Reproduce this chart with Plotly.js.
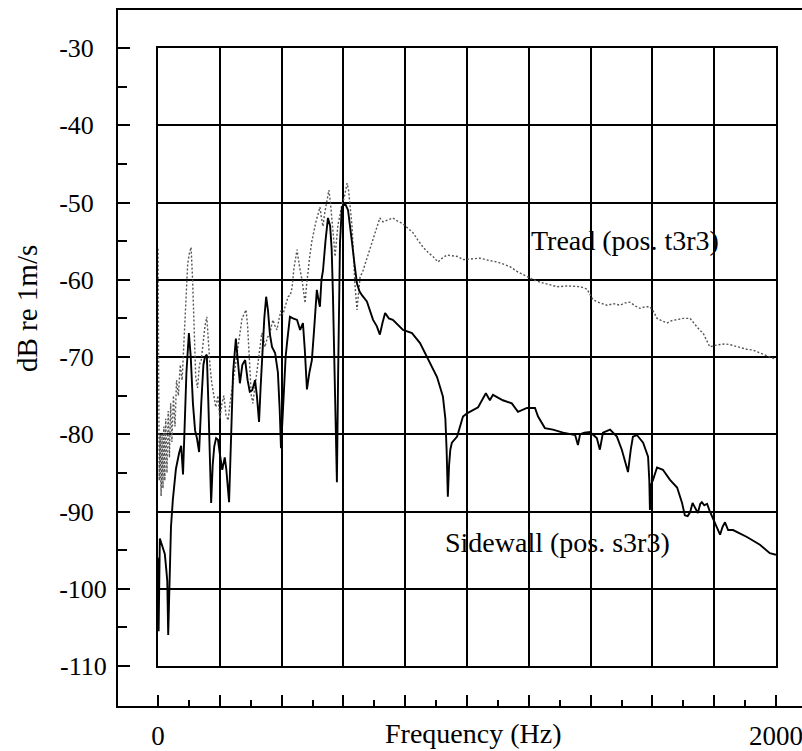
<!DOCTYPE html>
<html>
<head>
<meta charset="utf-8">
<script src="https://cdn.plot.ly/plotly-3.0.1.min.js"></script>
<style>html,body{margin:0;padding:0;background:#fff;}#chart{width:802px;height:751px;}</style>
</head>
<body>
<div id="chart"></div>
<script>
// ---------------- data ----------------
const SIDEWALL_FREQ = [0,2,6,14,22,27,30,33,37,42,48,58,68,75,81,86,92,100,106,113,120,126,133,140,147,152,158,163,168,172,177,182,188,194,200,208,216,221,230,236,243,252,258,265,273,282,290,297,305,314,320,327,332,337,344,350,356,362,369,379,388,394,398,403,408,413,418,427,437,450,460,469,475,482,490,498,506,514,519,524,529,534,542,550,557,562,566,571,575,579,583,586,589,595,605,615,622,628,636,644,652,660,676,696,708,718,727,735,747,760,793,822,848,870,903,922,930,934,938,942,946,951,968,987,1000,1036,1061,1074,1084,1116,1145,1165,1194,1220,1230,1252,1278,1311,1350,1359,1366,1380,1398,1420,1430,1440,1463,1485,1501,1515,1521,1530,1537,1550,1570,1586,1590,1592,1596,1602,1615,1634,1657,1680,1696,1705,1714,1722,1730,1738,1747,1755,1760,1768,1777,1786,1802,1819,1827,1835,1845,1861,1906,1948,1980,2000];
const SIDEWALL_DB = [-96,-105.5,-93.5,-94.5,-95.5,-97.6,-99,-106,-100,-92,-88.5,-84.5,-82.5,-81.5,-85.2,-78,-72,-66.9,-70,-76,-79.5,-80.5,-82.3,-76,-71,-70,-69.7,-76,-82,-88.9,-84,-81.6,-80.5,-80.7,-82.5,-84.6,-83,-84.5,-88.8,-80,-72,-67.6,-70,-73.4,-71,-70.4,-73,-74.5,-74.3,-73,-75,-78.4,-74,-70,-65,-62.2,-64,-67,-68.7,-69.5,-72,-77,-81.8,-78,-74,-70,-68,-64.8,-65,-65.2,-66.5,-65.6,-69,-74.2,-72,-70.4,-66,-61.3,-62.5,-63.5,-60,-58.8,-55,-52,-53,-56,-61.7,-70,-78,-86.2,-72,-62,-55.2,-50.6,-50.1,-51,-53,-55.2,-58,-60.5,-61.5,-62,-62.8,-65.2,-66,-67.1,-65.5,-64.3,-65,-65.2,-66.5,-66.9,-68.2,-70,-72.6,-75.1,-78,-82,-88.1,-84,-82,-81.1,-80.3,-77.7,-77.3,-76.5,-74.7,-75.6,-74.9,-75.6,-76,-77.1,-76.6,-76.6,-77.7,-79.2,-79.4,-79.8,-80.1,-81.4,-80,-79.8,-79.7,-80.5,-82,-79.8,-79.4,-80.3,-82,-84,-84.9,-82,-80.3,-80.1,-81.1,-82.9,-86,-89.8,-86.5,-85.9,-84.3,-84.6,-85.9,-86.9,-88.9,-90.5,-90.6,-90.1,-88.9,-89.5,-90.2,-89,-88.8,-89.2,-89,-90,-91.5,-93,-92,-91.4,-92.4,-92.4,-93.3,-94.3,-95.4,-95.6];

const TREAD_FREQ = [0,2,4,7,10,13,16,19,22,25,29,33,37,41,45,50,55,60,66,72,78,84,90,96,102,107,112,117,122,128,134,140,146,152,158,163,168,174,180,187,194,200,207,213,220,227,233,239,246,252,259,266,272,278,285,290,296,302,307,313,319,324,330,336,341,346,354,362,367,372,379,385,392,398,404,411,416,421,428,434,440,445,450,453,456,461,466,471,476,480,485,491,498,505,511,518,524,529,534,539,544,549,553,558,563,568,573,578,582,587,592,597,602,607,612,617,621,628,633,637,644,649,654,662,670,678,686,694,702,710,718,728,741,750,760,775,790,808,825,840,858,875,890,906,920,935,952,971,987,1010,1042,1070,1097,1120,1139,1165,1194,1215,1236,1262,1291,1330,1366,1388,1400,1408,1430,1453,1475,1495,1512,1527,1545,1560,1575,1592,1605,1615,1630,1647,1662,1680,1700,1722,1735,1744,1755,1764,1775,1786,1800,1819,1835,1851,1867,1883,1905,1925,1950,1980,2000];
const TREAD_DB = [-56,-70,-86,-80,-88,-80,-87,-79,-86,-78,-85,-77,-83,-76,-81,-75,-79,-73,-75,-71,-73,-68,-63,-58,-56.5,-55.8,-60,-67,-72.6,-74,-71,-70.4,-68,-66,-64.8,-68,-71,-73.4,-75,-76.5,-75,-78,-76,-75,-77.5,-78.2,-76,-74.3,-72.5,-71,-69,-67,-65,-64.5,-63.9,-66,-71,-75,-76,-74,-72,-71,-68.7,-66.9,-67.5,-68.7,-67.5,-67,-66,-65.2,-66,-66.5,-65,-64,-64.5,-63.5,-63,-62.2,-62,-61,-58.5,-57,-56.1,-57,-58,-59,-60,-61.5,-63,-61,-58.7,-57,-55,-53.5,-52.5,-51.5,-50.6,-52,-53.1,-51.5,-50.5,-49.5,-48.4,-50,-52,-54.5,-57,-55,-53,-52,-51,-50,-49.5,-48.5,-47.5,-48.5,-50,-53.1,-57,-60.4,-63.9,-61.5,-59.6,-59,-58,-57,-56.1,-55,-54,-53,-52,-52.5,-52.3,-52.1,-52,-52.4,-52.7,-53.3,-53.9,-54.8,-55.8,-56.5,-57,-57.7,-57.2,-56.8,-56.9,-57,-57.4,-57.3,-57.2,-57.5,-57.7,-58,-58.3,-59,-59.6,-60,-60.3,-60.6,-60.9,-60.8,-60.9,-61.2,-62,-62.6,-63,-63.3,-63.1,-63.3,-63,-62.9,-63.4,-63.7,-63.5,-63.5,-64.2,-65,-65.3,-65.6,-65.3,-65.2,-65,-65,-65.7,-66.1,-66.6,-66.9,-67.8,-68.7,-68.5,-68.4,-68.3,-68.4,-68.6,-68.8,-69,-69.1,-69.5,-70,-70.3];

// tick values / labels
const FREQ_MAJOR_TICKS = [0,200,400,600,800,1000,1200,1400,1600,1800,2000];
const FREQ_TICK_LABELS = ['0','','','','','','','','','','2000'];
const FREQ_MINOR_TICKS = [100,300,500,700,900,1100,1300,1500,1700,1900];
const DB_MAJOR_TICKS = [-110,-100,-90,-80,-70,-60,-50,-40,-30];
const DB_TICK_LABELS = ['-110','-100','-90','-80','-70','-60','-50','-40','-30'];
const DB_MINOR_TICKS = [-105,-95,-85,-75,-65,-55,-45,-35];

// ---------------- layout geometry ----------------
const W = 802, H = 751;
const frame = {l:118, t:10, r:802, b:706};      // outer frame (paper)
const inner = {l:158, t:48, r:776, b:666};      // grid box
const pw = frame.r - frame.l, ph = frame.b - frame.t;
const xDom = [(inner.l-frame.l)/pw, (inner.r-frame.l)/pw];
const yDom = [(frame.b-inner.b)/ph, (frame.b-inner.t)/ph];
const xPerPx = 2000/(inner.r-inner.l);
const yPerPx = 80/(inner.b-inner.t);
const x2Range = [(frame.l-inner.l)*xPerPx, (frame.r-inner.l)*xPerPx];
const y2Range = [-110-(frame.b-inner.b)*yPerPx, -30+(inner.t-frame.t)*yPerPx];

const FONT = 'Liberation Serif, Times New Roman, serif';
// pad short labels so they appear left-aligned like the original
const padLabel = s => s + '\u00a0\u00a0'.repeat(4 - s.length);

const traces = [
  {x: TREAD_FREQ, y: TREAD_DB, type:'scatter', mode:'lines', name:'Tread (pos. t3r3)',
   line:{color:'#555', width:1.4, dash:'2px,2px'}, xaxis:'x', yaxis:'y'},
  {x: SIDEWALL_FREQ, y: SIDEWALL_DB, type:'scatter', mode:'lines', name:'Sidewall (pos. s3r3)',
   line:{color:'#000', width:1.9}, xaxis:'x', yaxis:'y'},
  {x: [], y: [], type:'scatter', mode:'lines', xaxis:'x2', yaxis:'y2', showlegend:false, hoverinfo:'skip'}
];

const layout = {
  width: W, height: H,
  margin: {l: frame.l, r: W-frame.r, t: frame.t, b: H-frame.b, pad:0},
  paper_bgcolor:'#fff', plot_bgcolor:'rgba(0,0,0,0)',
  showlegend:false,
  font:{family:FONT, color:'#000', size:26},
  xaxis: {
    domain: xDom, range:[0,2000], anchor:'y',
    tickmode:'linear', tick0:0, dtick:200,
    showgrid:true, gridcolor:'#000', gridwidth:2,
    zeroline:false, showline:true, mirror:true, linecolor:'#000', linewidth:2,
    ticks:'', showticklabels:false, fixedrange:true
  },
  yaxis: {
    domain: yDom, range:[-110,-30], anchor:'x',
    tickmode:'linear', tick0:-110, dtick:10,
    showgrid:true, gridcolor:'#000', gridwidth:2,
    zeroline:false, showline:true, mirror:true, linecolor:'#000', linewidth:2,
    ticks:'', showticklabels:false, fixedrange:true
  },
  xaxis2: {
    domain:[0,1], range:x2Range, anchor:'y2',
    tickmode:'array', tickvals:FREQ_MAJOR_TICKS, ticktext:FREQ_TICK_LABELS,
    ticks:'inside', ticklen:11, tickwidth:2, tickcolor:'#000',
    minor:{tickmode:'array', tickvals:FREQ_MINOR_TICKS, ticks:'inside', ticklen:6, tickwidth:2, tickcolor:'#000', showgrid:false},
    showgrid:false, zeroline:false, showline:true, mirror:true, linecolor:'#000', linewidth:2,
    tickfont:{family:FONT, size:27, color:'#000'}, ticklabelstandoff:5, ticklabeloverflow:'allow', fixedrange:true
  },
  yaxis2: {
    domain:[0,1], range:y2Range, anchor:'x2',
    tickmode:'array', tickvals:DB_MAJOR_TICKS, ticktext:DB_TICK_LABELS.map(padLabel),
    ticks:'inside', ticklen:12, tickwidth:2, tickcolor:'#000',
    minor:{tickmode:'array', tickvals:DB_MINOR_TICKS, ticks:'inside', ticklen:9, tickwidth:2, tickcolor:'#000', showgrid:false},
    showgrid:false, zeroline:false, showline:true, mirror:false, linecolor:'#000', linewidth:2,
    tickfont:{family:FONT, size:26, color:'#000'}, ticklabelstandoff:4, fixedrange:true
  },
  annotations: [
    {text:'Tread (pos. t3r3)', x:(625-inner.l)*xPerPx, y:-30-(240-inner.t)*yPerPx, xref:'x', yref:'y',
     showarrow:false, xanchor:'center', yanchor:'middle', font:{family:FONT, size:28, color:'#000'}},
    {text:'Sidewall (pos. s3r3)', x:(557-inner.l)*xPerPx, y:-30-(542-inner.t)*yPerPx, xref:'x', yref:'y',
     showarrow:false, xanchor:'center', yanchor:'middle', font:{family:FONT, size:28, color:'#000'}},
    {text:'dB re 1m/s', x:(27-frame.l)/pw, y:(frame.b-309)/ph, xref:'paper', yref:'paper',
     textangle:-90, showarrow:false, xanchor:'center', yanchor:'middle', font:{family:FONT, size:29, color:'#000'}},
    {text:'Frequency (Hz)', x:(473-frame.l)/pw, y:(frame.b-734)/ph, xref:'paper', yref:'paper',
     showarrow:false, xanchor:'center', yanchor:'middle', font:{family:FONT, size:28, color:'#000'}}
  ]
};

Plotly.newPlot('chart', traces, layout, {staticPlot:true, displayModeBar:false});
</script>
</body>
</html>
